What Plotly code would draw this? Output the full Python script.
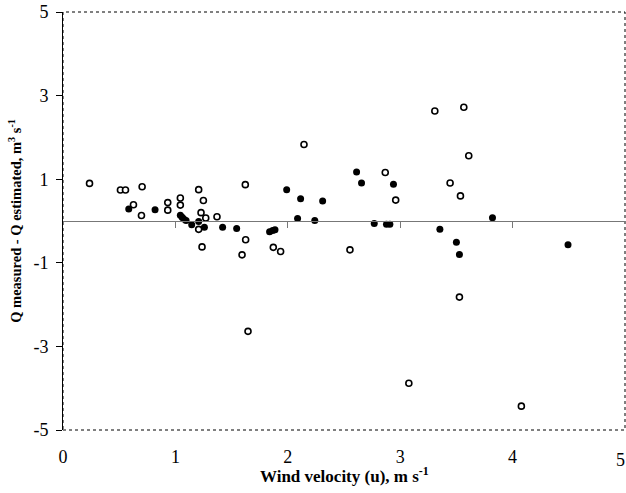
import plotly.graph_objects as go

# Open circles
open_u = [0.236, 0.511, 0.556, 0.704, 0.627, 0.698, 0.932, 0.932, 1.044, 1.044,
          1.207, 1.249, 1.228, 1.27, 1.37, 1.207, 1.237, 1.622, 1.625, 1.593,
          1.646, 1.871, 1.936, 2.144, 2.553, 2.867, 2.96, 3.077, 3.308, 3.444,
          3.527, 3.536, 3.566, 3.61, 4.078]
open_dq = [0.90, 0.74, 0.74, 0.82, 0.39, 0.13, 0.44, 0.26, 0.55, 0.38,
           0.75, 0.49, 0.20, 0.07, 0.10, -0.20, -0.62, 0.87, -0.45, -0.81,
           -2.64, -0.63, -0.73, 1.83, -0.69, 1.16, 0.50, -3.88, 2.63, 0.91,
           -1.82, 0.60, 2.72, 1.56, -4.43]

# Filled circles
fill_u = [0.585, 0.819, 1.044, 1.06, 1.074, 1.095, 1.145, 1.207, 1.258, 1.42,
          1.545, 1.838, 1.865, 1.886, 1.99, 2.114, 2.087, 2.24, 2.31, 2.612,
          2.656, 2.94, 2.769, 2.878, 2.908, 3.353, 3.5, 3.527, 3.821, 4.493]
fill_dq = [0.29, 0.27, 0.14, 0.09, 0.05, 0.01, -0.09, -0.01, -0.15, -0.15,
           -0.18, -0.26, -0.23, -0.21, 0.75, 0.53, 0.06, 0.01, 0.48, 1.17,
           0.91, 0.88, -0.06, -0.08, -0.08, -0.20, -0.51, -0.80, 0.08, -0.57]

x_ticks = [0, 1, 2, 3, 4, 5]
y_ticks = [-5, -3, -1, 1, 3, 5]

x_title = "<b>Wind velocity (u), m s<sup>-1</sup></b>"
y_title = "<b>Q measured - Q estimated, m<sup>3</sup> s<sup>-1</sup></b>"

font = "Liberation Serif, Times New Roman, serif"

fig = go.Figure()
fig.add_trace(go.Scatter(x=open_u, y=open_dq, mode="markers",
                         marker=dict(symbol="circle", size=6, color="white",
                                     line=dict(color="black", width=1.6)),
                         showlegend=False, xaxis="x", yaxis="y"))
fig.add_trace(go.Scatter(x=fill_u, y=fill_dq, mode="markers",
                         marker=dict(symbol="circle", size=7, color="black",
                                     line=dict(color="black", width=0)),
                         showlegend=False, xaxis="x", yaxis="y"))
# dummy trace for the zero-crossing axis
fig.add_trace(go.Scatter(x=[None], y=[None], xaxis="x2", yaxis="y", showlegend=False))

fig.update_layout(
    width=626, height=493,
    margin=dict(l=63, r=1, t=12, b=63),
    paper_bgcolor="white", plot_bgcolor="white",
    font=dict(family=font, color="black"),
    xaxis=dict(range=[0, 5], tickvals=x_ticks[:-1], ticktext=[str(v) for v in x_ticks[:-1]],
               showgrid=False, zeroline=False, showline=False, ticks="",
               ticklabelstandoff=14, tickfont=dict(size=18, family=font)),
    xaxis2=dict(range=[0, 5], overlaying="x", anchor="free", position=0.5,
                side="bottom", tickvals=[1, 2, 3, 4], showticklabels=False,
                ticks="outside", ticklen=6, tickcolor="#777", tickwidth=1,
                showline=True, linecolor="#777", linewidth=1,
                showgrid=False, zeroline=False),
    yaxis=dict(range=[-5, 5], tickvals=y_ticks, ticktext=[str(v) for v in y_ticks],
               showgrid=False, zeroline=False, showline=True, linecolor="black",
               linewidth=1, ticks="outside", ticklen=6, tickcolor="black",
               ticklabelstandoff=4, tickfont=dict(size=18, family=font),
               title=dict(text=y_title, font=dict(size=14.5, family=font), standoff=8)),
    shapes=[dict(type="rect", xref="paper", yref="paper", x0=0, x1=1, y0=0, y1=1,
                 line=dict(color="black", width=1, dash="dot"), layer="below")],
    annotations=[
        dict(x=x_ticks[-1], y=0, xref="x", yref="paper", yshift=-19, xshift=1,
             text=str(x_ticks[-1]), showarrow=False, yanchor="top",
             xanchor="right", borderpad=0, font=dict(size=18, family=font)),
        dict(x=0.5, y=0, xref="paper", yref="paper", yshift=-32,
             text=x_title, showarrow=False, yanchor="top", xanchor="center",
             font=dict(size=17, family=font)),
    ],
)

fig.write_html("out.html")
